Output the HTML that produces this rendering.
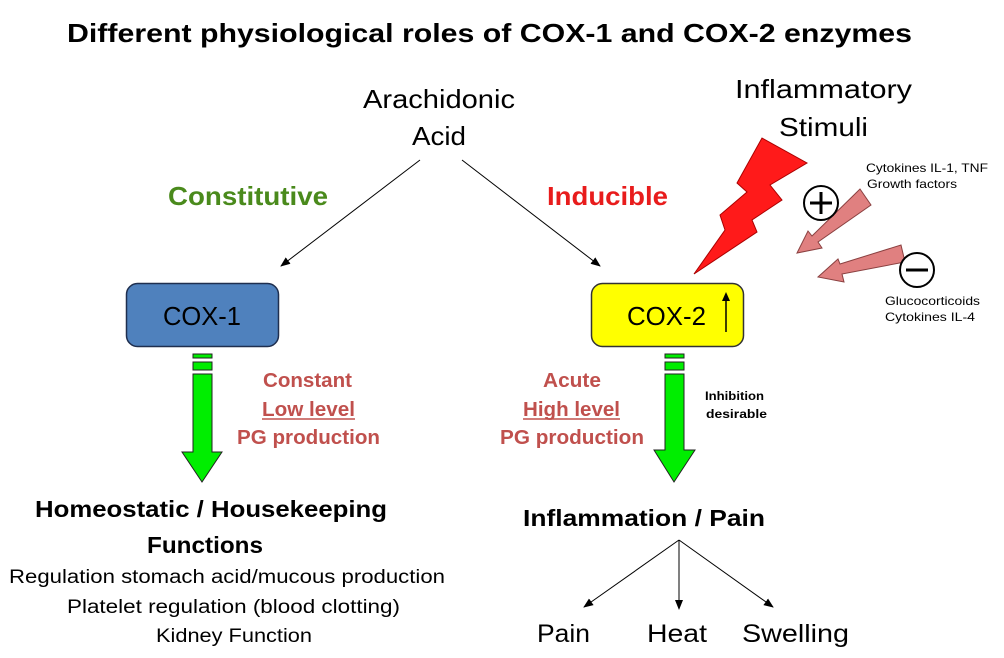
<!DOCTYPE html>
<html><head><meta charset="utf-8"><style>
html,body{margin:0;padding:0;background:#fff;}
svg{display:block;}
text{font-family:"Liberation Sans",sans-serif;}
</style></head><body>
<svg width="1004" height="658" viewBox="0 0 1004 658" xmlns="http://www.w3.org/2000/svg">
<defs>
<marker id="ah" markerWidth="10" markerHeight="8" refX="9" refY="4" orient="auto" markerUnits="userSpaceOnUse">
<path d="M0,0 L10,4 L0,8 Z" fill="#000"/></marker>
</defs>
<g lengthAdjust="spacingAndGlyphs">
<text x="67" y="42" font-size="26" font-weight="bold" textLength="845" lengthAdjust="spacingAndGlyphs">Different physiological roles of COX-1 and COX-2 enzymes</text>
<text x="363" y="108" font-size="26" textLength="152" lengthAdjust="spacingAndGlyphs">Arachidonic</text>
<text x="412" y="145" font-size="26" textLength="54" lengthAdjust="spacingAndGlyphs">Acid</text>
<text x="735" y="98" font-size="26" textLength="177" lengthAdjust="spacingAndGlyphs">Inflammatory</text>
<text x="779" y="136" font-size="26" textLength="89" lengthAdjust="spacingAndGlyphs">Stimuli</text>
<text x="168" y="205" font-size="26" font-weight="bold" fill="#4a8a1c" textLength="160" lengthAdjust="spacingAndGlyphs">Constitutive</text>
<text x="547" y="205" font-size="26" font-weight="bold" fill="#e81c1c" textLength="121" lengthAdjust="spacingAndGlyphs">Inducible</text>
</g>
<line x1="420" y1="160" x2="281" y2="266" stroke="#000" stroke-width="1" marker-end="url(#ah)"/>
<line x1="462" y1="160" x2="600" y2="266" stroke="#000" stroke-width="1" marker-end="url(#ah)"/>
<rect x="126.5" y="283.5" width="152" height="63" rx="11" fill="#4f81bd" stroke="#1f2f4f" stroke-width="1.5"/>
<text x="163" y="325" font-size="26" textLength="78" lengthAdjust="spacingAndGlyphs">COX-1</text>
<rect x="591.5" y="283.5" width="152" height="63" rx="11" fill="#ffff00" stroke="#333" stroke-width="1.5"/>
<text x="627" y="325" font-size="26" textLength="79" lengthAdjust="spacingAndGlyphs">COX-2</text>
<line x1="726" y1="332" x2="726" y2="296" stroke="#000" stroke-width="1.5"/>
<path d="M722,301 L726,292 L730,301 Z" fill="#000"/>
<polygon points="762,138 807,163 770,185 782,200 752,220 757,232 694,274 725,230 720,215 747,192 737,183" fill="#ff1a1a" stroke="#a00" stroke-width="1"/>
<g fill="#e08080" stroke="#8a4040" stroke-width="1">
<polygon points="860,189 871,205 818,242 822,248 797,253 808,231 812,236"/>
<polygon points="901,245 905,262 842,274 844,282 818,277 838,259 840,264"/>
</g>
<circle cx="821" cy="203" r="17" fill="#fff" stroke="#000" stroke-width="2"/>
<path d="M810,203 H832 M821,192 V214" stroke="#000" stroke-width="3"/>
<circle cx="917" cy="270" r="17" fill="#fff" stroke="#000" stroke-width="2"/>
<path d="M906,270 H928" stroke="#000" stroke-width="3"/>
<text x="866" y="172" font-size="12" textLength="122" lengthAdjust="spacingAndGlyphs">Cytokines IL-1, TNF</text>
<text x="867" y="188" font-size="12" textLength="90" lengthAdjust="spacingAndGlyphs">Growth factors</text>
<text x="885" y="305" font-size="12" textLength="95" lengthAdjust="spacingAndGlyphs">Glucocorticoids</text>
<text x="885" y="321" font-size="12" textLength="90" lengthAdjust="spacingAndGlyphs">Cytokines IL-4</text>
<g fill="#00ee00" stroke="#222" stroke-width="1">
<rect x="193" y="354" width="19" height="4"/>
<rect x="193" y="362" width="19" height="8"/>
<polygon points="193,374 212,374 212,452 222,452 202,482 182,452 193,452"/>
<rect x="665" y="354" width="19" height="4"/>
<rect x="665" y="362" width="19" height="8"/>
<polygon points="665,374 684,374 684,450 695,450 674,482 654,450 665,450"/>
</g>
<g font-size="20" font-weight="bold" fill="#c0504d">
<text x="263" y="387" textLength="89" lengthAdjust="spacingAndGlyphs">Constant</text>
<text x="262" y="416" textLength="93" lengthAdjust="spacingAndGlyphs">Low level</text>
<text x="237" y="444" textLength="143" lengthAdjust="spacingAndGlyphs">PG production</text>
<text x="543" y="387" textLength="58" lengthAdjust="spacingAndGlyphs">Acute</text>
<text x="523" y="416" textLength="97" lengthAdjust="spacingAndGlyphs">High level</text>
<text x="500" y="444" textLength="144" lengthAdjust="spacingAndGlyphs">PG production</text>
</g>
<line x1="262" y1="419" x2="355" y2="419" stroke="#c0504d" stroke-width="1.5"/>
<line x1="523" y1="419" x2="620" y2="419" stroke="#c0504d" stroke-width="1.5"/>
<text x="705" y="400" font-size="12" font-weight="bold" textLength="59" lengthAdjust="spacingAndGlyphs">Inhibition</text>
<text x="706" y="418" font-size="12" font-weight="bold" textLength="61" lengthAdjust="spacingAndGlyphs">desirable</text>
<text x="35" y="517" font-size="23" font-weight="bold" textLength="352" lengthAdjust="spacingAndGlyphs">Homeostatic / Housekeeping</text>
<text x="147" y="553" font-size="23" font-weight="bold" textLength="116" lengthAdjust="spacingAndGlyphs">Functions</text>
<text x="9" y="583" font-size="19" textLength="436" lengthAdjust="spacingAndGlyphs">Regulation stomach acid/mucous production</text>
<text x="67" y="613" font-size="19" textLength="333" lengthAdjust="spacingAndGlyphs">Platelet regulation (blood clotting)</text>
<text x="156" y="642" font-size="19" textLength="156" lengthAdjust="spacingAndGlyphs">Kidney Function</text>
<text x="523" y="526" font-size="23" font-weight="bold" textLength="242" lengthAdjust="spacingAndGlyphs">Inflammation / Pain</text>
<line x1="679" y1="540" x2="584" y2="607" stroke="#000" stroke-width="1" marker-end="url(#ah)"/>
<line x1="679" y1="540" x2="679" y2="609" stroke="#000" stroke-width="1" marker-end="url(#ah)"/>
<line x1="679" y1="540" x2="773" y2="607" stroke="#000" stroke-width="1" marker-end="url(#ah)"/>
<text x="537" y="642" font-size="25" textLength="53" lengthAdjust="spacingAndGlyphs">Pain</text>
<text x="647" y="642" font-size="25" textLength="60" lengthAdjust="spacingAndGlyphs">Heat</text>
<text x="742" y="642" font-size="25" textLength="107" lengthAdjust="spacingAndGlyphs">Swelling</text>
</svg>
</body></html>
